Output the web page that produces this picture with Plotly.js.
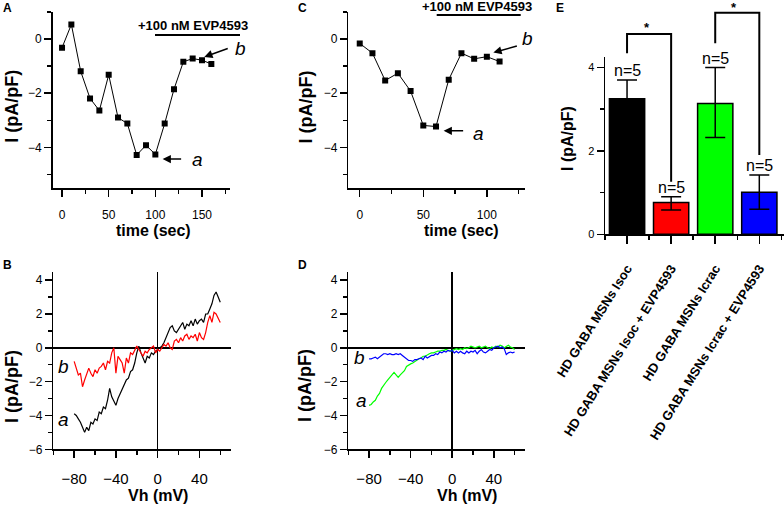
<!DOCTYPE html>
<html>
<head>
<meta charset="utf-8">
<script src="https://cdn.plot.ly/plotly-3.0.1.min.js"></script>
<style>
  body { margin: 0; background: #fff; }
  #chart { width: 784px; height: 506px; }
</style>
</head>
<body>
<div id="chart"></div>
<script>
// panel A: time course, Isoc cell
let timeA = [0, 10, 20, 30, 40, 50, 60, 70, 80, 90, 100, 110, 120, 130, 140, 150, 160];
let currentA = [-0.32, 0.54, -1.19, -2.19, -2.64, -1.32, -2.9, -3.12, -4.28, -3.92, -4.26, -3.12, -1.85, -0.84, -0.72, -0.78, -0.92];

// panel C: time course, Icrac cell
let timeC = [0, 10, 20, 30, 40, 50, 60, 70, 80, 90, 100, 110];
let currentC = [-0.16, -0.52, -1.53, -1.26, -1.92, -3.19, -3.23, -1.5, -0.52, -0.73, -0.65, -0.83];

// panels B and D: I-V ramps (mV)
let vh = [-80, -78, -76, -74, -72, -70, -68, -66, -64, -62, -60, -58, -56, -54, -52, -50, -48, -46, -44, -42,
          -40, -38, -36, -34, -32, -30, -28, -26, -24, -22, -20, -18, -16, -14, -12, -10, -8, -6, -4, -2,
          0, 2, 4, 6, 8, 10, 12, 14, 16, 18, 20, 22, 24, 26, 28, 30, 32, 34, 36, 38,
          40, 42, 44, 46, 48, 50, 52, 54, 56, 58, 60];
let ivIsocA = [-3.9, -4.0, -4.2, -4.4, -4.7, -5.0, -4.7, -4.9, -4.4, -4.5, -4.2, -4.3, -3.8, -3.9, -3.5, -3.6, -3.1, -2.4, -2.9, -3.2,
               -3.4, -3.0, -2.7, -2.5, -2.2, -1.9, -1.8, -1.4, -1.3, -0.9, -0.3, 0.1, -0.3, -0.6, -0.9, -0.5, -0.6, -0.3, -0.4, -0.2,
               -0.1, 0.0, 0.1, 0.3, 0.6, 0.9, 1.2, 1.3, 1.0, 0.9, 1.1, 1.3, 1.5, 1.1, 1.4, 1.3, 1.6, 1.3, 1.7, 1.4,
               1.6, 1.7, 1.5, 2.0, 2.0, 2.3, 2.6, 3.1, 3.3, 3.0, 2.7];
let ivIsocB = [-0.8, -1.2, -1.6, -1.5, -2.3, -1.9, -1.6, -1.2, -1.5, -1.7, -1.3, -1.5, -1.2, -1.1, -0.9, -1.3, -0.8, -0.9, -0.3, 0.0,
               -1.5, -0.5, -0.7, -0.9, -1.5, -0.6, -0.9, -0.3, -0.4, -0.1, 0.1, -0.1, -0.3, -0.5, -0.2, -0.3, -0.1, 0.0, 0.1, -0.3,
               -0.1, -0.2, 0.0, 0.2, 0.1, 0.3, 0.0, -0.1, 0.4, 0.5, 0.3, 0.6, 0.4, 0.7, 0.8, 0.5, 0.7, 0.6, 0.8, 0.4,
               0.9, 0.6, 0.5, 0.9, 1.5, 1.9, 1.5, 2.1, 2.0, 1.7, 1.5];
let ivCracA = [-3.4, -3.35, -3.2, -3.1, -2.85, -2.7, -2.4, -2.2, -2.05, -1.9, -1.75, -1.6, -1.45, -1.6, -1.75, -1.6, -1.5, -1.35, -1.1, -1.0,
               -0.95, -0.9, -0.8, -0.75, -0.65, -0.6, -0.5, -0.5, -0.4, -0.35, -0.3, -0.3, -0.25, -0.2, -0.2, -0.15, -0.15, -0.1, -0.15, -0.2,
               -0.15, -0.1, -0.05, -0.1, -0.05, -0.1, 0.0, -0.05, 0.0, 0.1, 0.05, 0.0, 0.05, 0.1, 0.0, 0.05, 0.1, 0.0, -0.05, 0.05,
               0.0, 0.1, 0.05, 0.15, 0.1, 0.0, 0.1, 0.15, 0.05, 0.0, -0.1];
let ivCracB = [-0.65, -0.65, -0.6, -0.55, -0.65, -0.55, -0.45, -0.35, -0.35, -0.4, -0.35, -0.4, -0.4, -0.35, -0.4, -0.35, -0.45, -0.55, -0.6, -0.75,
               -0.75, -0.8, -0.7, -0.7, -0.65, -0.6, -0.7, -0.5, -0.6, -0.5, -0.45, -0.45, -0.35, -0.4, -0.25, -0.3, -0.2, -0.25, -0.15, -0.2,
               -0.15, -0.3, -0.2, -0.3, -0.2, -0.3, -0.35, -0.2, -0.3, -0.2, -0.25, -0.15, -0.35, -0.2, -0.1, -0.25, -0.3, -0.2, -0.1, -0.15,
               0.0, 0.05, 0.1, 0.0, 0.05, -0.05, -0.4, -0.3, -0.25, -0.3, -0.25];

// panel E: summary bars
let groups = ['HD GABA MSNs Isoc', 'HD GABA MSNs Isoc + EVP4593', 'HD GABA MSNs Icrac', 'HD GABA MSNs Icrac + EVP4593'];
let groupPos = [0, 1, 2, 3];
let means = [3.25, 0.76, 3.14, 1.01];
let semUp = [0.45, 0.14, 0.86, 0.41];
let semDown = [0.45, 0.18, 0.82, 0.41];
let barColors = ['#000000', '#ff0000', '#00ff00', '#0000ff'];
let nLabels = ['n=5', 'n=5', 'n=5', 'n=5'];

const W = 784, H = 506;
const FONT = 'Arial, "Liberation Sans", sans-serif';
function px(x) { return x / W; }
function py(y) { return 1 - y / H; }

function minorTicks(dtick, tick0) {
    return {ticks: 'outside', ticklen: 4, tickwidth: 1.5, tickcolor: 'black', dtick: dtick, tick0: tick0 || 0};
}
function axis(opts) {
    let a = {
        showline: true, linecolor: 'black', linewidth: 1.5,
        ticks: 'outside', ticklen: 7, tickwidth: 1.5, tickcolor: 'black',
        showgrid: false, zeroline: false, automargin: false,
        tickfont: {family: FONT, size: 12, color: 'black'}
    };
    return Object.assign(a, opts);
}

let data = [
    {x: timeA, y: currentA, xaxis: 'x', yaxis: 'y', type: 'scatter', mode: 'lines+markers',
     line: {color: 'black', width: 1}, marker: {symbol: 'square', size: 6, color: 'black'}},
    {x: timeC, y: currentC, xaxis: 'x2', yaxis: 'y2', type: 'scatter', mode: 'lines+markers',
     line: {color: 'black', width: 1}, marker: {symbol: 'square', size: 6, color: 'black'}},
    {x: vh, y: ivIsocA, xaxis: 'x3', yaxis: 'y3', type: 'scatter', mode: 'lines', line: {color: 'black', width: 1.2}},
    {x: vh, y: ivIsocB, xaxis: 'x3', yaxis: 'y3', type: 'scatter', mode: 'lines', line: {color: '#ff0000', width: 1.2}},
    {x: vh, y: ivCracA, xaxis: 'x4', yaxis: 'y4', type: 'scatter', mode: 'lines', line: {color: '#00ff00', width: 1.2}},
    {x: vh, y: ivCracB, xaxis: 'x4', yaxis: 'y4', type: 'scatter', mode: 'lines', line: {color: '#0000ff', width: 1.2}},
    {x: groupPos, y: means, xaxis: 'x5', yaxis: 'y5', type: 'bar', width: 0.8,
     marker: {color: barColors, line: {color: 'black', width: 1.5}},
     error_y: {type: 'data', array: semUp, arrayminus: semDown, color: 'black', thickness: 1.5, width: 10}}
];

let topDom = [py(188), py(12)];
let botDom = [py(449.3), py(271.7)];
let ivTickFont = {family: FONT, size: 15, color: 'black'};

let layout = {
    width: W, height: H,
    margin: {l: 0, r: 0, t: 0, b: 0},
    paper_bgcolor: 'white', plot_bgcolor: 'white',
    showlegend: false,
    font: {family: FONT, color: 'black'},

    xaxis: axis({domain: [px(52.7), px(230)], anchor: 'y', range: [-10, 180], dtick: 50, tick0: 0,
                 ticklabelstandoff: 8, minor: minorTicks(25)}),
    yaxis: axis({domain: topDom, anchor: 'x', range: [-5.5, 1], dtick: 2, tick0: 0, minor: minorTicks(1)}),

    xaxis2: axis({domain: [px(348.3), px(525)], anchor: 'y2', range: [-9, 130], dtick: 50, tick0: 0,
                  ticklabelstandoff: 8, minor: minorTicks(25)}),
    yaxis2: axis({domain: topDom, anchor: 'x2', range: [-5.5, 1], dtick: 2, tick0: 0, minor: minorTicks(1)}),

    xaxis3: axis({domain: [px(53.3), px(230.7)], anchor: 'y3', range: [-100, 70], dtick: 40, tick0: 0,
                  zeroline: true, zerolinecolor: 'black', zerolinewidth: 1.5,
                  tickfont: ivTickFont, ticklabelstandoff: 8, minor: minorTicks(20)}),
    yaxis3: axis({domain: botDom, anchor: 'x3', range: [-6, 4.5], dtick: 2, tick0: 0,
                  zeroline: true, zerolinecolor: 'black', zerolinewidth: 1.5, minor: minorTicks(1)}),

    xaxis4: axis({domain: [px(348.3), px(525)], anchor: 'y4', range: [-100, 70], dtick: 40, tick0: 0,
                  zeroline: true, zerolinecolor: 'black', zerolinewidth: 1.5,
                  tickfont: ivTickFont, ticklabelstandoff: 8, minor: minorTicks(20)}),
    yaxis4: axis({domain: botDom, anchor: 'x4', range: [-6, 4.5], dtick: 2, tick0: 0,
                  zeroline: true, zerolinecolor: 'black', zerolinewidth: 1.5, minor: minorTicks(1)}),

    xaxis5: axis({domain: [px(605), 1], anchor: 'y5', range: [-0.5, 3.56], tickmode: 'array',
                  tickvals: groupPos, ticktext: groups, tickangle: -58, ticklen: 8,
                  tickfont: {family: FONT, size: 13, color: 'black', weight: 'bold'}, ticklabelstandoff: 12,
                  minor: minorTicks(1, 0.5)}),
    yaxis5: axis({domain: [py(234.3), py(56.7)], anchor: 'x5', range: [0, 4.26], dtick: 2, tick0: 0,
                  tickfont: {family: FONT, size: 11, color: 'black'}, minor: minorTicks(1)}),

    shapes: [
        // drug application bars
        {type: 'line', xref: 'paper', yref: 'paper', x0: px(155), x1: px(240), y0: py(35), y1: py(35), line: {color: 'black', width: 2}},
        {type: 'line', xref: 'paper', yref: 'paper', x0: px(436.7), x1: px(520.7), y0: py(15), y1: py(15), line: {color: 'black', width: 2}},
        // significance brackets
        {type: 'path', xref: 'x5', yref: 'paper', line: {color: 'black', width: 2},
         path: 'M 0,' + py(53.3) + ' L 0,' + py(34) + ' L 1,' + py(34) + ' L 1,' + py(181.7)},
        {type: 'path', xref: 'x5', yref: 'paper', line: {color: 'black', width: 2},
         path: 'M 2,' + py(43.3) + ' L 2,' + py(12.7) + ' L 3,' + py(12.7) + ' L 3,' + py(155)}
    ],
    annotations: []
};

function label(text, x, y, size, opts) {
    let a = {xref: 'paper', yref: 'paper', x: px(x), y: py(y), text: text, showarrow: false,
             xanchor: 'center', yanchor: 'middle', font: {family: FONT, size: size, color: 'black'}};
    return Object.assign(a, opts || {});
}
function boldLabel(text, x, y, size, angle) {
    return label(text, x, y, size, {textangle: angle || 0, font: {family: FONT, size: size, color: 'black', weight: 'bold'}});
}
function arrow(xref, yref, x, y, ax, ay) {
    return {xref: xref, yref: yref, x: x, y: y, ax: ax, ay: ay, text: '', showarrow: true,
            arrowhead: 2, arrowsize: 1.1, arrowwidth: 1.5, arrowcolor: 'black'};
}

let ann = layout.annotations;
// axis titles
ann.push(boldLabel('time (sec)', 153.3, 230, 16));
ann.push(boldLabel('time (sec)', 461.7, 230, 16));
ann.push(boldLabel('Vh (mV)', 158, 495, 16));
ann.push(boldLabel('Vh (mV)', 466.7, 495, 16));
ann.push(boldLabel('I (pA/pF)', 12, 106.7, 18, -90));
ann.push(boldLabel('I (pA/pF)', 305.7, 106.7, 18, -90));
ann.push(boldLabel('I (pA/pF)', 12, 387, 18, -90));
ann.push(boldLabel('I (pA/pF)', 305, 386, 18, -90));
ann.push(boldLabel('I (pA/pF)', 568, 139, 16, -90));
// panel letters
ann.push(boldLabel('A', 8, 8, 12));
ann.push(boldLabel('B', 8, 265, 12));
ann.push(boldLabel('C', 302, 8, 12));
ann.push(boldLabel('D', 302, 265, 12));
ann.push(boldLabel('E', 560, 8, 12));
// drug labels
ann.push(boldLabel('+100 nM EVP4593', 193, 25, 13));
ann.push(boldLabel('+100 nM EVP4593', 477.5, 6.5, 13));
// a / b markers
ann.push(label('<i>a</i>', 197, 160, 19));
ann.push(label('<i>b</i>', 240, 48, 19));
ann.push(arrow('x', 'y', 107.8, -4.43, 20, 0));
ann.push(arrow('x', 'y', 152.4, -0.66, 25, -9));
ann.push(label('<i>a</i>', 478, 133, 19));
ann.push(label('<i>b</i>', 527, 38, 19));
ann.push(arrow('x2', 'y2', 66, -3.39, 21, 0));
ann.push(arrow('x2', 'y2', 105.1, -0.5, 25, -7));
ann.push(label('<i>a</i>', 63, 419, 19));
ann.push(label('<i>b</i>', 64, 366, 19));
ann.push(label('<i>b</i>', 359, 357, 19));
ann.push(label('<i>a</i>', 361, 400, 19));
// n labels and stars in E
for (let i = 0; i < groups.length; i++) {
    ann.push({xref: 'x5', yref: 'y5', x: groupPos[i], y: means[i] + semUp[i], text: nLabels[i], showarrow: false,
              xanchor: 'center', yanchor: 'bottom', yshift: -1, font: {family: FONT, size: 16, color: 'black'}});
}
ann.push(boldLabel('*', 647.3, 27, 13));
ann.push(boldLabel('*', 734, 7, 13));

Plotly.newPlot('chart', data, layout, {staticPlot: true});
</script>
</body>
</html>
